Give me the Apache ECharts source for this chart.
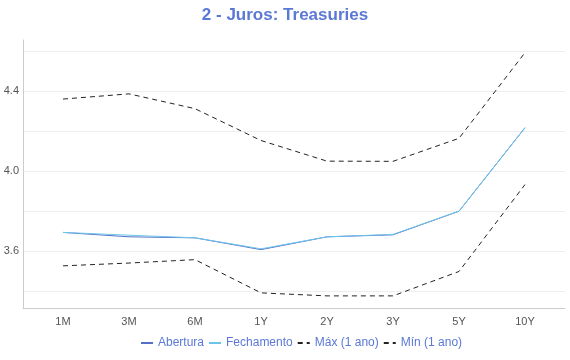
<!DOCTYPE html>
<html><head><meta charset="utf-8">
<script src="https://cdn.jsdelivr.net/npm/echarts@6/dist/echarts.min.js"></script>
<style>html,body{margin:0;padding:0;background:#fff}#c{width:570px;height:360px}</style>
</head><body><div id="c"></div>
<script>
const categories = ['1M','3M','6M','1Y','2Y','3Y','5Y','10Y'];
const abertura = [3.694, 3.672, 3.667, 3.608, 3.672, 3.682, 3.800, 4.217];
const fechamento = [3.694, 3.680, 3.667, 3.612, 3.672, 3.684, 3.800, 4.217];
const maxAno = [4.360, 4.386, 4.312, 4.153, 4.050, 4.049, 4.164, 4.592];
const minAno = [3.527, 3.541, 3.558, 3.392, 3.377, 3.377, 3.499, 3.933];

const toPts = arr => arr.map((v, i) => [i, v]);
const chart = echarts.init(document.getElementById('c'));
const font = 'Liberation Sans, Arial, sans-serif';
chart.setOption({
  animation: false,
  title: { text: '2 - Juros: Treasuries', left: 'center', top: 2,
    textStyle: { color: '#5b78d6', fontSize: 17, fontWeight: 'bold', fontFamily: font } },
  legend: { bottom: 6, left: 135, itemWidth: 12, itemHeight: 8, itemGap: 4,
    itemStyle: { opacity: 0 },
    textStyle: { color: '#5b78d6', fontSize: 12, fontFamily: font },
    data: ['Abertura','Fechamento','Máx (1 ano)','Mín (1 ano)'] },
  grid: { left: 23, right: 5, top: 40, bottom: 52 },
  xAxis: { type: 'value', min: -0.606, max: 7.606, splitNumber: 8, minInterval: 1, maxInterval: 1,
    axisLine: { show: true, onZero: false, lineStyle: { color: '#cccccc' } },
    axisTick: { show: false }, splitLine: { show: false },
    axisLabel: { color: '#555', fontSize: 11, fontFamily: font, showMinLabel: false, showMaxLabel: false,
      formatter: v => (Math.abs(v - Math.round(v)) < 1e-6 && categories[Math.round(v)]) ? categories[Math.round(v)] : '' } },
  yAxis: { type: 'value', min: 3.3165, max: 4.655, splitNumber: 7,
    axisLine: { show: true, onZero: false, lineStyle: { color: '#cccccc' } },
    axisTick: { show: false },
    splitLine: { show: true, showMinLine: false, showMaxLine: false, lineStyle: { color: '#eeeeee' } },
    axisLabel: { color: '#555', fontSize: 11, fontFamily: font, margin: 4, showMinLabel: false, showMaxLabel: false,
      formatter: v => { const r = Math.round(v * 10); return (Math.abs(v * 10 - r) < 1e-6 && r % 4 === 0) ? v.toFixed(1) : ''; } } },
  series: [
    { name: 'Abertura', type: 'line', data: toPts(abertura), symbol: 'none', lineStyle: { color: '#5470c6', width: 1 }, itemStyle: { color: '#5470c6' } },
    { name: 'Fechamento', type: 'line', data: toPts(fechamento), symbol: 'none', lineStyle: { color: '#6cc4ea', width: 1 }, itemStyle: { color: '#6cc4ea' } },
    { name: 'Máx (1 ano)', type: 'line', data: toPts(maxAno), symbol: 'none', lineStyle: { color: '#222', width: 1, type: [5, 4] }, itemStyle: { color: '#222' } },
    { name: 'Mín (1 ano)', type: 'line', data: toPts(minAno), symbol: 'none', lineStyle: { color: '#222', width: 1, type: [5, 4] }, itemStyle: { color: '#222' } }
  ]
});
</script></body></html>
